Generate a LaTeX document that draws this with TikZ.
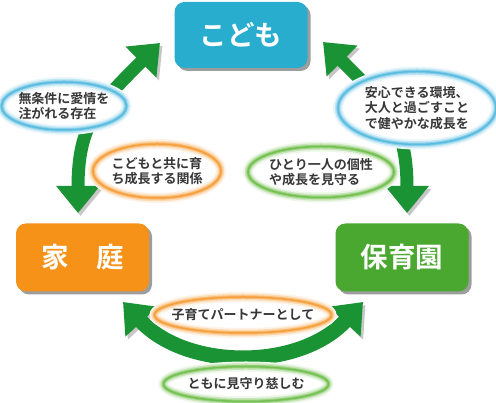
\documentclass[tikz,border=0pt]{standalone}
\usepackage{fontspec}
\newfontfamily\jp{Noto Sans CJK JP}[BoldFont={Noto Sans CJK JP Bold}]
\usepackage{xcolor}
\usepackage{tikz}
\usetikzlibrary{arrows.meta,positioning,shapes.geometric,shadows}

\definecolor{kblue}{RGB}{41,173,207}
\definecolor{korange}{RGB}{246,146,24}
\definecolor{kgreen}{RGB}{74,168,48}
\definecolor{arrowgreen}{RGB}{26,147,52}
\definecolor{rimblue}{RGB}{70,180,220}
\definecolor{rimorange}{RGB}{245,150,40}
\definecolor{rimgreen}{RGB}{100,185,60}
\definecolor{txtgray}{RGB}{55,55,55}

\begin{document}
\begin{tikzpicture}[x=1pt, y=1pt,
    box/.style={rectangle, rounded corners=10pt, minimum width=133pt, minimum height=68pt, text=white, font=\jp\bfseries\fontsize{27.5}{30}\selectfont, drop shadow={shadow xshift=3pt, shadow yshift=-3pt, fill=black!55, opacity=.7}},
    bubble/.style={ellipse, inner xsep=-12pt, inner ysep=0pt, fill=white, align=left, text=txtgray, font=\jp\bfseries\fontsize{13}{15.5}\selectfont,
        postaction={draw=#1!12, line width=10pt}, postaction={draw=#1!35, line width=6.5pt},
        postaction={draw=#1!65, line width=3.5pt}, postaction={draw=#1!90, line width=1.5pt}},
    link/.style={draw=arrowgreen, line width=13pt, {Triangle[width=42pt,length=27pt]}-{Triangle[width=42pt,length=27pt]},
        preaction={draw=black!40, opacity=.55, transform canvas={shift={(2.5pt,-3pt)}}}}
]
    \useasboundingbox (0,0) rectangle (496,403);

    % Three places
    \node[box, fill=kblue, minimum height=66pt] (kodomo) at (241,368) {こども};
    \node[box, fill=korange] (katei) at (82.5,145.5) {家　庭};
    \node[box, fill=kgreen] (hoikuen) at (402,145.5) {保育園};

    % Arrow ends
    \coordinate (kodomoL) at (160,360);
    \coordinate (kateiT) at (78,190);
    \coordinate (kodomoR) at (323,361);
    \coordinate (hoikuenT) at (407,190);
    \coordinate (kateiB) at (123,101);
    \coordinate (hoikuenB) at (363,101);

    % Green arrows
    \draw[link] (kodomoL) to[out=225, in=90, looseness=1.2] (kateiT);
    \draw[link] (kodomoR) to[out=315, in=90, looseness=1.2] (hoikuenT);
    \draw[link, line width=15pt] (kateiB) to[out=-47, in=227] (hoikuenB);

    % Bubbles
    \node[bubble=rimblue, minimum width=125pt, minimum height=48pt] (mujouken) at (64,297) {無条件に愛情を\\注がれる存在};
    \node[bubble=rimorange, minimum width=128pt, minimum height=54pt] (tomoni) at (157,232) {こどもと共に育\\ち成長する関係};
    \node[bubble=rimblue, minimum width=158pt, minimum height=73pt] (anshin) at (417,295) {安心できる環境、\\大人と過ごすこと\\で健やかな成長を};
    \node[bubble=rimgreen, minimum width=146pt, minimum height=51pt] (kosei) at (321,231) {ひとり一人の個性\\や成長を見守る};
    \node[bubble=rimorange, minimum width=177pt, minimum height=36pt] (partner) at (243,88) {子育てパートナーとして};
    \node[bubble=rimgreen, minimum width=165pt, minimum height=35pt] (mimamori) at (246,19) {ともに見守り慈しむ};
\end{tikzpicture}
\end{document}
